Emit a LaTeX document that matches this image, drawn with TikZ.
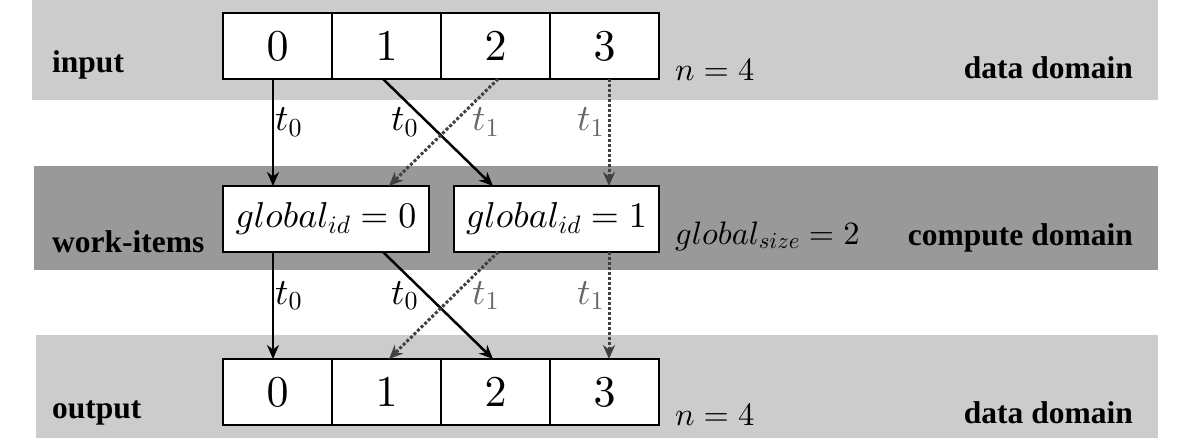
\documentclass[tikz,border=0pt]{standalone}
\usepackage{fontspec}
\newfontfamily\lblfont{Liberation Serif}
\DeclareFontShape{OML}{cmm}{m}{it}{<->cmmi10}{}
\DeclareFontShape{OT1}{cmr}{m}{n}{<->cmr10}{}
\DeclareFontShape{OMS}{cmsy}{m}{n}{<->cmsy10}{}
\usetikzlibrary{arrows.meta}
\begin{document}
\begin{tikzpicture}[x=1pt,y=-1pt,
  cell/.style={draw, line width=2.8pt, fill=white, minimum width=109pt, minimum height=66pt, inner sep=0pt, outer sep=0pt, font=\fontsize{44}{50}\selectfont},
  wbox/.style={draw, line width=2.8pt, fill=white, minimum height=66pt, inner sep=0pt, outer sep=0pt, font=\fontsize{36}{40}\selectfont},
  lbl/.style={font=\fontsize{31.5}{34}\selectfont\lblfont\bfseries, inner sep=0pt},
  mlbl/.style={font=\fontsize{32.5}{34}\selectfont, inner sep=0pt, anchor=base west},
  tl/.style={font=\fontsize{37}{40}\selectfont, inner sep=0pt, anchor=base west},
  tlg/.style={tl, text=black!60},
  sarr/.style={-{Stealth[length=14pt,width=12pt]}, line width=2.5pt, black},
  darr/.style={-{Stealth[length=14pt,width=12pt]}, line width=3pt, black!75, dash pattern=on 3pt off 2pt},
]
\useasboundingbox (0,0) rectangle (1193,438);
% bands
\fill[gray!40] (32,0) rectangle (1158,100);
\fill[gray!80] (34,166) rectangle (1158,270);
\fill[gray!40] (36,335) rectangle (1158,438);
% input cells
\node[cell] (in0) at (277.5,46) {$0$};
\node[cell] (in1) at (386.5,46) {$1$};
\node[cell] (in2) at (495.5,46) {$2$};
\node[cell] (in3) at (604.5,46) {$3$};
% work items
\node[wbox, minimum width=206pt] (wi0) at (326,219) {$global_{id} = 0$};
\node[wbox, minimum width=205pt] (wi1) at (556.5,219) {$global_{id} = 1$};
% output cells
\node[cell] (out0) at (277.5,392) {$0$};
\node[cell] (out1) at (386.5,392) {$1$};
\node[cell] (out2) at (495.5,392) {$2$};
\node[cell] (out3) at (604.5,392) {$3$};
% column coordinates
\coordinate (c0) at (273,0);
\coordinate (c1s) at (383,0);
\coordinate (c1t) at (389,0);
\coordinate (c2s) at (498,0);
\coordinate (c2t) at (493,0);
\coordinate (c3) at (609,0);
% arrows input -> work items
\draw[sarr] (in0.south -| c0) -- (wi0.north -| c0);
\draw[sarr] (in1.south -| c1s) -- (wi1.north -| c2t);
\draw[darr] (in2.south -| c2s) -- (wi0.north -| c1t);
\draw[darr] (in3.south -| c3) -- (wi1.north -| c3);
% arrows work items -> output
\draw[sarr] (wi0.south -| c0) -- (out0.north -| c0);
\draw[sarr] (wi0.south -| c1s) -- (out2.north -| c2t);
\draw[darr] (wi1.south -| c2s) -- (out1.north -| c1t);
\draw[darr] (wi1.south -| c3) -- (out3.north -| c3);
% thread labels
\node[tl] (ta0) at (275,131) {$t_0$};
\node[tl] (ta1) at (391,131) {$t_0$};
\node[tlg] (ta2) at (472,131) {$t_1$};
\node[tlg] (ta3) at (577,131) {$t_1$};
\node[tl] (tb0) at (275,304) {$t_0$};
\node[tl] (tb1) at (391,304) {$t_0$};
\node[tlg] (tb2) at (472,304) {$t_1$};
\node[tlg] (tb3) at (577,304) {$t_1$};
% left labels
\node[lbl, anchor=base west] (linput) at (52,73) {input};
\node[lbl, anchor=base west] (lwork) at (52,253) {work-items};
\node[lbl, anchor=base west] (loutput) at (52,418) {output};
% right labels
\node[lbl, anchor=base east] (rdata1) at (1133,79) {data domain};
\node[lbl, anchor=base east] (rcomp) at (1133,246) {compute domain};
\node[lbl, anchor=base east] (rdata2) at (1133,423) {data domain};
% size labels
\node[mlbl] (n1) at (675,81) {$n = 4$};
\node[mlbl] (gs) at (675,244) {$global_{size} = 2$};
\node[mlbl] (n2) at (675,425) {$n = 4$};
\end{tikzpicture}
\end{document}
